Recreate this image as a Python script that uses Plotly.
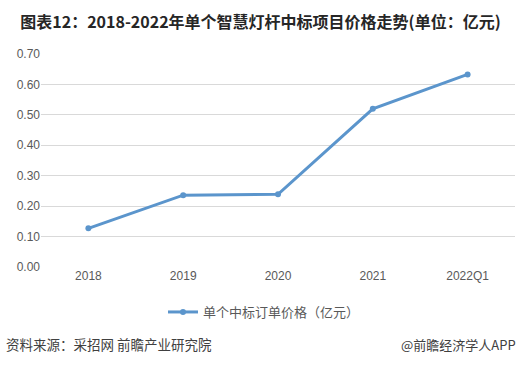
import plotly.graph_objects as go

categories = ["2018", "2019", "2020", "2021", "2022Q1"]
values = [0.127, 0.236, 0.239, 0.520, 0.633]
series_name = "单个中标订单价格（亿元）"
y_ticks = [0.0, 0.1, 0.2, 0.3, 0.4, 0.5, 0.6, 0.7]
y_tick_labels = ["0.00", "0.10", "0.20", "0.30", "0.40", "0.50", "0.60", "0.70"]

W, H = 521, 365
L, R, T, B = 41, 6, 54, 98
pw, ph = W - L - R, H - T - B

def px2paper_x(px):
    return (px - L) / pw

def px2paper_y(py):
    return (H - B - py) / ph

CJK = "Noto Sans CJK SC, Liberation Sans, Arial, sans-serif"
LAT = "Liberation Sans, Arial, Noto Sans CJK SC, sans-serif"

fig = go.Figure()
fig.add_trace(go.Scatter(
    x=categories, y=values, mode="lines+markers", name=series_name,
    line=dict(color="#5B95CC", width=3),
    marker=dict(color="#5B95CC", size=6, symbol="circle"),
))

fig.update_layout(
    width=W, height=H,
    margin=dict(l=L, r=R, t=T, b=B),
    paper_bgcolor="white", plot_bgcolor="white",
    title=dict(
        text="<b>图表12：2018-2022年单个智慧灯杆中标项目价格走势(单位：亿元)</b>",
        x=0.5, xanchor="center", xref="container",
        y=1 - 22 / H, yanchor="middle", yref="container",
        font=dict(family=CJK, size=16, color="#262626"),
    ),
    xaxis=dict(
        type="category", showgrid=False, showline=False, zeroline=False,
        ticks="", tickfont=dict(family=LAT, size=12, color="#595959"),
        range=[-0.5, 4.5],
    ),
    yaxis=dict(
        range=[0, 0.7], tickvals=y_ticks, ticktext=y_tick_labels,
        showgrid=True, gridcolor="#D9D9D9", gridwidth=1,
        zeroline=False, showline=False, ticks="",
        tickfont=dict(family=LAT, size=12, color="#595959"),
    ),
    showlegend=True,
    legend=dict(
        orientation="h", x=px2paper_x(264), xanchor="center",
        y=px2paper_y(312), yanchor="middle",
        font=dict(family=CJK, size=13, color="#595959"),
        itemwidth=30, bgcolor="rgba(0,0,0,0)",
    ),
    annotations=[
        dict(text="资料来源：采招网 前瞻产业研究院", xref="paper", yref="paper",
             x=px2paper_x(4), y=px2paper_y(344), xanchor="left", yanchor="middle",
             showarrow=False, font=dict(family=CJK, size=13.5, color="#404040")),
        dict(text="@前瞻经济学人APP", xref="paper", yref="paper",
             x=px2paper_x(518), y=px2paper_y(344), xanchor="right", yanchor="middle",
             showarrow=False, font=dict(family=CJK, size=13, color="#404040")),
    ],
)

fig.write_html("out.html", config={"displayModeBar": False},
               post_script="document.body.style.margin='0';")
